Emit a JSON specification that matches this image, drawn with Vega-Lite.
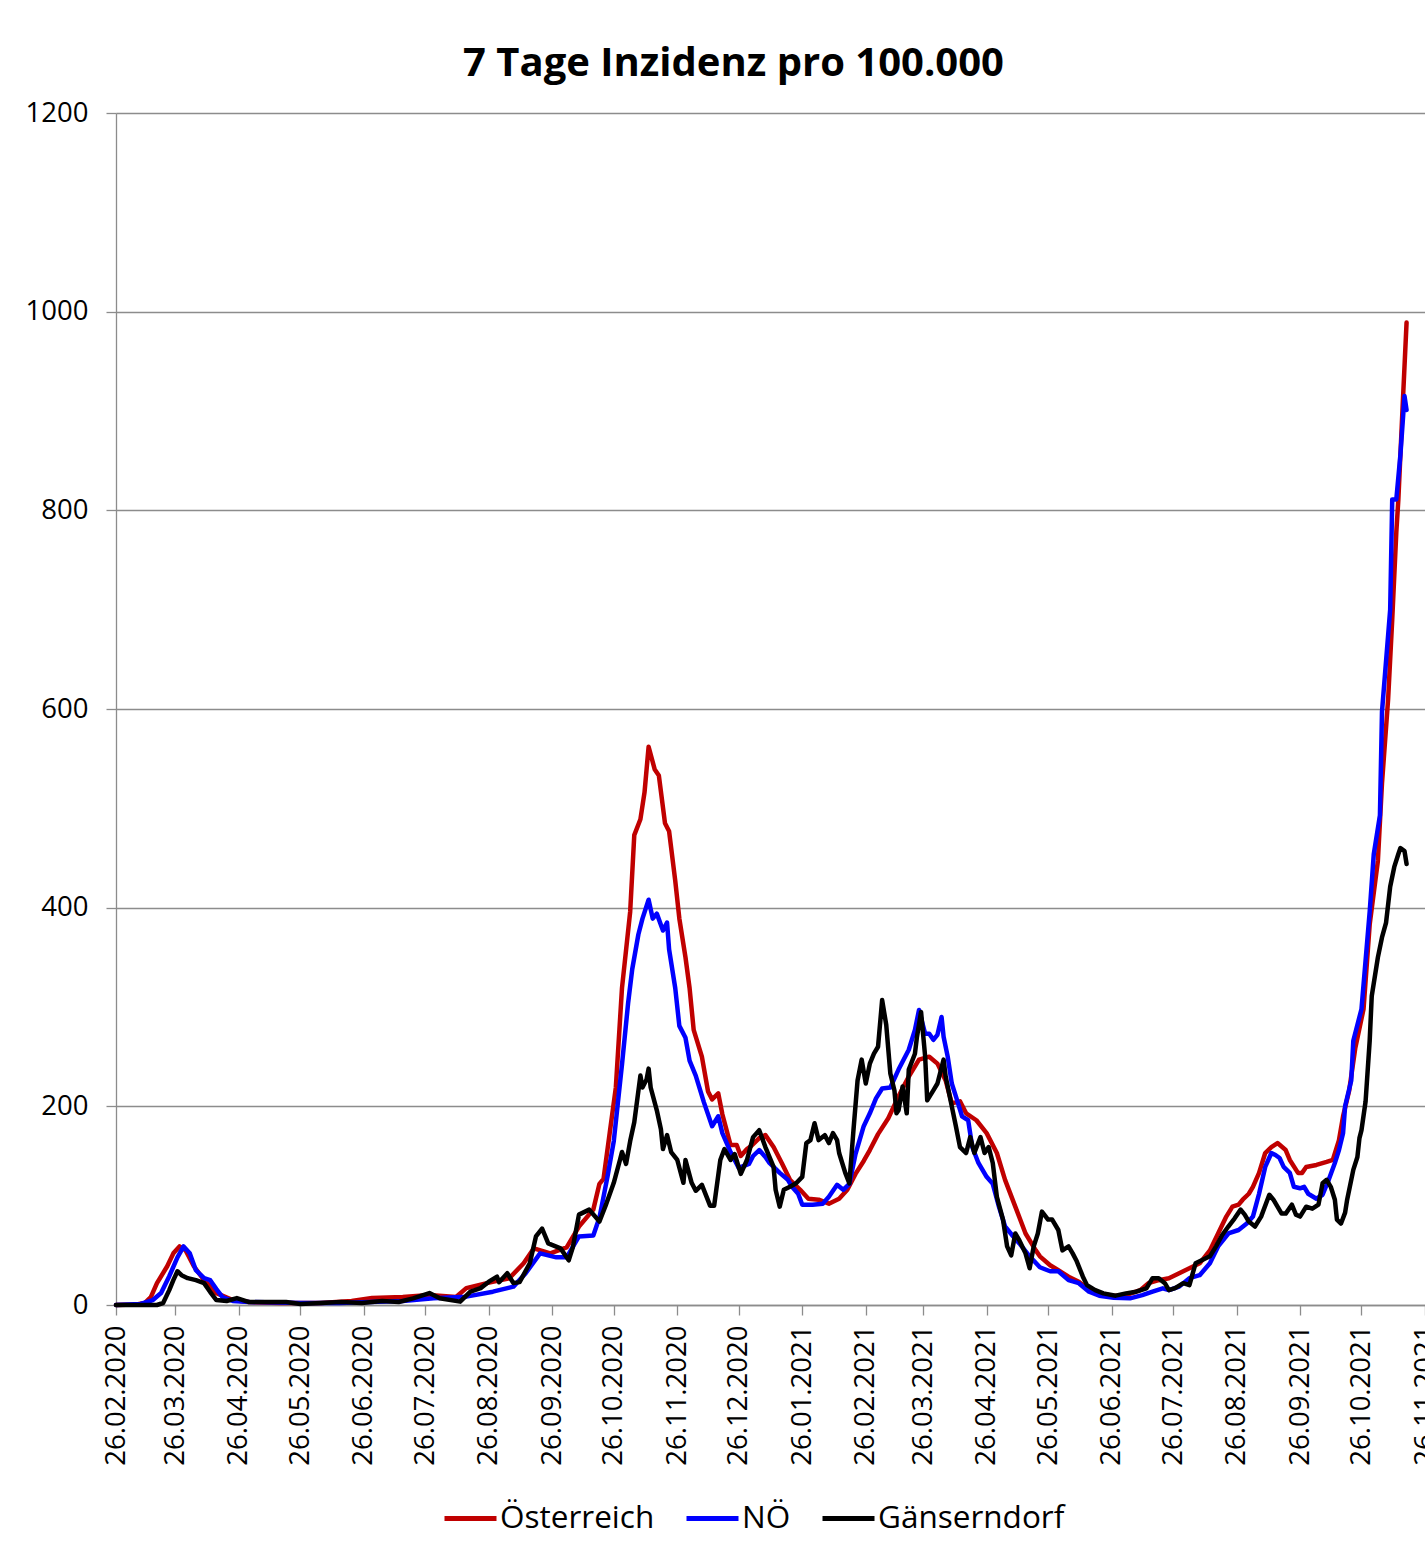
{
  "$schema": "https://vega.github.io/schema/vega-lite/v6.json",
  "autosize": "none",
  "width": 1309,
  "height": 1192,
  "padding": {"left": 116, "top": 113, "right": 0, "bottom": 241},
  "background": "white",
  "config": {"font": "Open Sans", "view": {"stroke": null}},
  "title": {"text": "7 Tage Inzidenz pro 100.000", "fontSize": 40, "fontWeight": "bold", "font": "Open Sans", "color": "#000000", "anchor": "middle", "dx": -37, "dy": 39, "offset": 22, "baseline": "alphabetic"},
  "datasets": {
    "at": [
      {"date":"2020-02-26","v":0},{"date":"2020-03-07","v":0.5},{"date":"2020-03-11","v":2},{"date":"2020-03-14","v":8},{"date":"2020-03-17","v":22},{"date":"2020-03-22","v":39},{"date":"2020-03-25","v":52},{"date":"2020-03-28","v":59},{"date":"2020-03-31","v":55},{"date":"2020-04-04","v":39},{"date":"2020-04-09","v":25},{"date":"2020-04-15","v":12},{"date":"2020-04-23","v":5},{"date":"2020-05-01","v":3},{"date":"2020-05-16","v":2},{"date":"2020-06-05","v":2},{"date":"2020-06-20","v":4},{"date":"2020-06-30","v":7},{"date":"2020-07-15","v":8},{"date":"2020-07-28","v":10},{"date":"2020-08-10","v":8},{"date":"2020-08-15","v":17},{"date":"2020-08-25","v":22},{"date":"2020-09-05","v":27},{"date":"2020-09-12","v":42},{"date":"2020-09-17","v":57},{"date":"2020-09-25","v":52},{"date":"2020-10-03","v":58},{"date":"2020-10-09","v":79},{"date":"2020-10-16","v":96},{"date":"2020-10-19","v":122},{"date":"2020-10-21","v":127},{"date":"2020-10-24","v":173},{"date":"2020-10-27","v":219},{"date":"2020-10-30","v":319},{"date":"2020-11-03","v":396},{"date":"2020-11-05","v":473},{"date":"2020-11-08","v":489},{"date":"2020-11-10","v":516},{"date":"2020-11-12","v":562},{"date":"2020-11-15","v":539},{"date":"2020-11-17","v":533},{"date":"2020-11-20","v":485},{"date":"2020-11-22","v":477},{"date":"2020-11-25","v":427},{"date":"2020-11-27","v":389},{"date":"2020-11-30","v":350},{"date":"2020-12-02","v":319},{"date":"2020-12-04","v":277},{"date":"2020-12-08","v":250},{"date":"2020-12-11","v":215},{"date":"2020-12-13","v":207},{"date":"2020-12-16","v":213},{"date":"2020-12-18","v":192},{"date":"2020-12-22","v":161},{"date":"2020-12-25","v":161},{"date":"2020-12-27","v":150},{"date":"2020-12-30","v":157},{"date":"2021-01-01","v":160},{"date":"2021-01-05","v":168},{"date":"2021-01-08","v":171},{"date":"2021-01-12","v":159},{"date":"2021-01-16","v":143},{"date":"2021-01-20","v":126},{"date":"2021-01-25","v":116},{"date":"2021-01-29","v":107},{"date":"2021-02-03","v":106},{"date":"2021-02-08","v":102},{"date":"2021-02-13","v":107},{"date":"2021-02-17","v":116},{"date":"2021-02-21","v":132},{"date":"2021-02-25","v":145},{"date":"2021-02-28","v":156},{"date":"2021-03-04","v":172},{"date":"2021-03-09","v":188},{"date":"2021-03-14","v":210},{"date":"2021-03-19","v":230},{"date":"2021-03-24","v":247},{"date":"2021-03-29","v":250},{"date":"2021-04-02","v":243},{"date":"2021-04-06","v":226},{"date":"2021-04-09","v":203},{"date":"2021-04-13","v":205},{"date":"2021-04-16","v":193},{"date":"2021-04-21","v":186},{"date":"2021-04-26","v":173},{"date":"2021-05-01","v":153},{"date":"2021-05-05","v":126},{"date":"2021-05-10","v":99},{"date":"2021-05-15","v":72},{"date":"2021-05-20","v":55},{"date":"2021-05-22","v":49},{"date":"2021-05-27","v":40},{"date":"2021-05-31","v":35},{"date":"2021-06-05","v":28.5},{"date":"2021-06-10","v":23.5},{"date":"2021-06-15","v":15},{"date":"2021-06-20","v":11.7},{"date":"2021-06-27","v":9},{"date":"2021-07-03","v":10},{"date":"2021-07-10","v":15},{"date":"2021-07-14","v":22},{"date":"2021-07-19","v":25},{"date":"2021-07-24","v":27},{"date":"2021-07-29","v":32},{"date":"2021-08-03","v":37},{"date":"2021-08-08","v":42},{"date":"2021-08-13","v":55},{"date":"2021-08-17","v":72},{"date":"2021-08-21","v":89},{"date":"2021-08-24","v":99},{"date":"2021-08-27","v":101},{"date":"2021-08-29","v":106},{"date":"2021-09-01","v":112},{"date":"2021-09-03","v":119},{"date":"2021-09-06","v":133},{"date":"2021-09-09","v":153},{"date":"2021-09-12","v":159},{"date":"2021-09-15","v":163},{"date":"2021-09-19","v":156},{"date":"2021-09-21","v":146},{"date":"2021-09-25","v":133},{"date":"2021-09-27","v":133},{"date":"2021-09-29","v":139},{"date":"2021-10-04","v":141},{"date":"2021-10-09","v":144},{"date":"2021-10-12","v":146},{"date":"2021-10-15","v":166},{"date":"2021-10-17","v":190},{"date":"2021-10-20","v":216},{"date":"2021-10-23","v":259},{"date":"2021-10-27","v":298},{"date":"2021-10-30","v":383},{"date":"2021-11-03","v":447},{"date":"2021-11-05","v":525},{"date":"2021-11-08","v":610},{"date":"2021-11-10","v":690},{"date":"2021-11-12","v":778},{"date":"2021-11-13","v":811},{"date":"2021-11-15","v":901},{"date":"2021-11-17","v":989}
    ],
    "noe": [
      {"date":"2020-02-26","v":0},{"date":"2020-03-09","v":1},{"date":"2020-03-15","v":5},{"date":"2020-03-19","v":12},{"date":"2020-03-23","v":29},{"date":"2020-03-27","v":48},{"date":"2020-03-30","v":59},{"date":"2020-04-02","v":52},{"date":"2020-04-05","v":35},{"date":"2020-04-09","v":27},{"date":"2020-04-12","v":25},{"date":"2020-04-15","v":16},{"date":"2020-04-18","v":8},{"date":"2020-04-23","v":4},{"date":"2020-05-01","v":3},{"date":"2020-05-26","v":2},{"date":"2020-06-14","v":2},{"date":"2020-06-29","v":3},{"date":"2020-07-15","v":4},{"date":"2020-07-30","v":6.7},{"date":"2020-08-15","v":8.4},{"date":"2020-08-28","v":13.4},{"date":"2020-09-07","v":18.5},{"date":"2020-09-13","v":32},{"date":"2020-09-20","v":52},{"date":"2020-09-28","v":48},{"date":"2020-10-03","v":48},{"date":"2020-10-09","v":69},{"date":"2020-10-16","v":70},{"date":"2020-10-19","v":88},{"date":"2020-10-23","v":130},{"date":"2020-10-26","v":165},{"date":"2020-10-30","v":242},{"date":"2020-11-02","v":304},{"date":"2020-11-04","v":338},{"date":"2020-11-07","v":373},{"date":"2020-11-09","v":389},{"date":"2020-11-12","v":408},{"date":"2020-11-14","v":389},{"date":"2020-11-16","v":394},{"date":"2020-11-19","v":377},{"date":"2020-11-21","v":385},{"date":"2020-11-22","v":358},{"date":"2020-11-25","v":319},{"date":"2020-11-27","v":281},{"date":"2020-11-30","v":269},{"date":"2020-12-02","v":246},{"date":"2020-12-05","v":231},{"date":"2020-12-09","v":204},{"date":"2020-12-13","v":180},{"date":"2020-12-16","v":190},{"date":"2020-12-18","v":173},{"date":"2020-12-22","v":154},{"date":"2020-12-26","v":138},{"date":"2020-12-31","v":142},{"date":"2021-01-02","v":150},{"date":"2021-01-05","v":156},{"date":"2021-01-08","v":149},{"date":"2021-01-10","v":143},{"date":"2021-01-15","v":133},{"date":"2021-01-19","v":126},{"date":"2021-01-21","v":119},{"date":"2021-01-24","v":112},{"date":"2021-01-26","v":101},{"date":"2021-01-31","v":101},{"date":"2021-02-05","v":102},{"date":"2021-02-08","v":109},{"date":"2021-02-12","v":121},{"date":"2021-02-15","v":116},{"date":"2021-02-18","v":122},{"date":"2021-02-21","v":152},{"date":"2021-02-25","v":180},{"date":"2021-02-28","v":193},{"date":"2021-03-03","v":208},{"date":"2021-03-06","v":218},{"date":"2021-03-10","v":219},{"date":"2021-03-14","v":237},{"date":"2021-03-19","v":257},{"date":"2021-03-22","v":277},{"date":"2021-03-24","v":297},{"date":"2021-03-27","v":273},{"date":"2021-03-29","v":273},{"date":"2021-03-31","v":267},{"date":"2021-04-02","v":272},{"date":"2021-04-04","v":290},{"date":"2021-04-05","v":270},{"date":"2021-04-07","v":250},{"date":"2021-04-09","v":223},{"date":"2021-04-11","v":210},{"date":"2021-04-14","v":190},{"date":"2021-04-17","v":186},{"date":"2021-04-19","v":159},{"date":"2021-04-22","v":143},{"date":"2021-04-26","v":129},{"date":"2021-04-29","v":122},{"date":"2021-05-02","v":99},{"date":"2021-05-05","v":79},{"date":"2021-05-09","v":69},{"date":"2021-05-12","v":62},{"date":"2021-05-17","v":49},{"date":"2021-05-22","v":38},{"date":"2021-05-27","v":34},{"date":"2021-05-31","v":34},{"date":"2021-06-05","v":25},{"date":"2021-06-10","v":22},{"date":"2021-06-15","v":13.4},{"date":"2021-06-20","v":9.4},{"date":"2021-06-27","v":7.4},{"date":"2021-07-05","v":6.7},{"date":"2021-07-11","v":10},{"date":"2021-07-16","v":13.4},{"date":"2021-07-21","v":16.8},{"date":"2021-07-24","v":15},{"date":"2021-07-29","v":18.5},{"date":"2021-08-03","v":27},{"date":"2021-08-08","v":30},{"date":"2021-08-13","v":42},{"date":"2021-08-17","v":59},{"date":"2021-08-22","v":72},{"date":"2021-08-27","v":75.5},{"date":"2021-08-31","v":82},{"date":"2021-09-03","v":89},{"date":"2021-09-06","v":112},{"date":"2021-09-09","v":139},{"date":"2021-09-12","v":153},{"date":"2021-09-14","v":151},{"date":"2021-09-16","v":148},{"date":"2021-09-18","v":139},{"date":"2021-09-21","v":133},{"date":"2021-09-23","v":119},{"date":"2021-09-26","v":117.5},{"date":"2021-09-28","v":119},{"date":"2021-09-30","v":112},{"date":"2021-10-04","v":107},{"date":"2021-10-07","v":111},{"date":"2021-10-10","v":126},{"date":"2021-10-13","v":143},{"date":"2021-10-15","v":156},{"date":"2021-10-17","v":173},{"date":"2021-10-18","v":200},{"date":"2021-10-21","v":226},{"date":"2021-10-22","v":266},{"date":"2021-10-26","v":298},{"date":"2021-10-30","v":396},{"date":"2021-11-01","v":454},{"date":"2021-11-04","v":493},{"date":"2021-11-05","v":597},{"date":"2021-11-09","v":700},{"date":"2021-11-10","v":811},{"date":"2021-11-12","v":811},{"date":"2021-11-14","v":856},{"date":"2021-11-16","v":915},{"date":"2021-11-17","v":901}
    ],
    "gd": [
      {"date":"2020-02-26","v":0},{"date":"2020-03-17","v":0},{"date":"2020-03-20","v":2},{"date":"2020-03-23","v":15},{"date":"2020-03-25","v":25},{"date":"2020-03-27","v":34},{"date":"2020-03-29","v":30},{"date":"2020-04-01","v":27},{"date":"2020-04-05","v":25},{"date":"2020-04-09","v":22},{"date":"2020-04-12","v":13},{"date":"2020-04-15","v":5},{"date":"2020-04-20","v":4},{"date":"2020-04-25","v":7},{"date":"2020-05-01","v":3},{"date":"2020-05-19","v":3},{"date":"2020-05-26","v":1},{"date":"2020-06-05","v":2},{"date":"2020-06-15","v":3},{"date":"2020-06-25","v":2},{"date":"2020-07-05","v":4},{"date":"2020-07-13","v":3},{"date":"2020-07-20","v":6.7},{"date":"2020-07-28","v":12},{"date":"2020-08-02","v":6.7},{"date":"2020-08-12","v":3.4},{"date":"2020-08-17","v":13.4},{"date":"2020-08-22","v":17},{"date":"2020-08-26","v":23.5},{"date":"2020-08-30","v":28.5},{"date":"2020-08-31","v":23},{"date":"2020-09-04","v":32},{"date":"2020-09-07","v":22},{"date":"2020-09-10","v":23},{"date":"2020-09-15","v":42},{"date":"2020-09-18","v":69},{"date":"2020-09-21","v":77},{"date":"2020-09-24","v":62},{"date":"2020-09-30","v":57},{"date":"2020-10-04","v":45},{"date":"2020-10-06","v":58},{"date":"2020-10-09","v":91},{"date":"2020-10-14","v":96},{"date":"2020-10-19","v":84},{"date":"2020-10-22","v":100},{"date":"2020-10-26","v":123},{"date":"2020-10-29","v":146},{"date":"2020-10-30","v":154},{"date":"2020-11-01","v":142},{"date":"2020-11-03","v":165},{"date":"2020-11-05","v":184},{"date":"2020-11-08","v":231},{"date":"2020-11-09","v":219},{"date":"2020-11-11","v":227},{"date":"2020-11-12","v":238},{"date":"2020-11-13","v":219},{"date":"2020-11-16","v":196},{"date":"2020-11-18","v":177},{"date":"2020-11-19","v":157},{"date":"2020-11-21","v":171},{"date":"2020-11-23","v":154},{"date":"2020-11-26","v":146},{"date":"2020-11-29","v":123},{"date":"2020-11-30","v":146},{"date":"2020-12-03","v":123},{"date":"2020-12-05","v":115},{"date":"2020-12-08","v":121},{"date":"2020-12-12","v":100},{"date":"2020-12-14","v":100},{"date":"2020-12-17","v":146},{"date":"2020-12-19","v":157},{"date":"2020-12-22","v":146},{"date":"2020-12-24","v":152},{"date":"2020-12-27","v":132},{"date":"2020-12-30","v":146},{"date":"2021-01-02","v":169},{"date":"2021-01-05","v":176},{"date":"2021-01-08","v":159},{"date":"2021-01-12","v":139},{"date":"2021-01-13","v":116},{"date":"2021-01-15","v":99},{"date":"2021-01-17","v":116},{"date":"2021-01-20","v":119},{"date":"2021-01-23","v":122.5},{"date":"2021-01-26","v":129},{"date":"2021-01-28","v":163},{"date":"2021-01-30","v":166},{"date":"2021-02-01","v":183},{"date":"2021-02-03","v":166},{"date":"2021-02-06","v":171},{"date":"2021-02-08","v":163},{"date":"2021-02-10","v":173},{"date":"2021-02-12","v":166},{"date":"2021-02-13","v":153},{"date":"2021-02-16","v":133},{"date":"2021-02-18","v":122.5},{"date":"2021-02-20","v":176},{"date":"2021-02-22","v":226},{"date":"2021-02-24","v":247},{"date":"2021-02-26","v":223},{"date":"2021-02-28","v":243},{"date":"2021-03-02","v":253},{"date":"2021-03-04","v":260},{"date":"2021-03-06","v":307},{"date":"2021-03-08","v":282},{"date":"2021-03-10","v":233},{"date":"2021-03-12","v":216},{"date":"2021-03-13","v":193},{"date":"2021-03-14","v":196},{"date":"2021-03-16","v":220},{"date":"2021-03-18","v":193},{"date":"2021-03-19","v":237},{"date":"2021-03-22","v":253},{"date":"2021-03-23","v":270},{"date":"2021-03-25","v":295},{"date":"2021-03-27","v":250},{"date":"2021-03-28","v":206},{"date":"2021-03-31","v":216},{"date":"2021-04-02","v":223},{"date":"2021-04-05","v":247},{"date":"2021-04-06","v":230},{"date":"2021-04-09","v":200},{"date":"2021-04-11","v":180},{"date":"2021-04-13","v":159},{"date":"2021-04-16","v":153},{"date":"2021-04-18","v":169},{"date":"2021-04-20","v":153},{"date":"2021-04-23","v":169},{"date":"2021-04-25","v":153},{"date":"2021-04-27","v":159},{"date":"2021-04-29","v":143},{"date":"2021-05-01","v":109},{"date":"2021-05-04","v":86},{"date":"2021-05-06","v":59},{"date":"2021-05-08","v":50},{"date":"2021-05-10","v":72},{"date":"2021-05-12","v":65},{"date":"2021-05-15","v":52},{"date":"2021-05-17","v":37},{"date":"2021-05-19","v":59},{"date":"2021-05-21","v":72},{"date":"2021-05-23","v":94},{"date":"2021-05-26","v":86},{"date":"2021-05-28","v":86},{"date":"2021-05-31","v":75.5},{"date":"2021-06-02","v":55},{"date":"2021-06-05","v":59},{"date":"2021-06-07","v":52},{"date":"2021-06-09","v":44},{"date":"2021-06-12","v":28.5},{"date":"2021-06-14","v":20},{"date":"2021-06-18","v":15},{"date":"2021-06-22","v":11.7},{"date":"2021-06-28","v":9.4},{"date":"2021-07-03","v":11.7},{"date":"2021-07-08","v":13.4},{"date":"2021-07-13","v":16.8},{"date":"2021-07-16","v":27},{"date":"2021-07-19","v":27},{"date":"2021-07-22","v":22},{"date":"2021-07-24","v":15},{"date":"2021-07-27","v":17},{"date":"2021-07-31","v":22},{"date":"2021-08-03","v":20},{"date":"2021-08-06","v":42},{"date":"2021-08-09","v":45},{"date":"2021-08-13","v":49},{"date":"2021-08-16","v":59},{"date":"2021-08-19","v":70.5},{"date":"2021-08-22","v":79},{"date":"2021-08-25","v":87},{"date":"2021-08-28","v":96},{"date":"2021-08-30","v":91},{"date":"2021-09-01","v":84},{"date":"2021-09-04","v":79},{"date":"2021-09-07","v":89},{"date":"2021-09-11","v":111},{"date":"2021-09-13","v":106},{"date":"2021-09-17","v":92},{"date":"2021-09-19","v":92},{"date":"2021-09-22","v":101},{"date":"2021-09-24","v":91},{"date":"2021-09-26","v":89},{"date":"2021-09-29","v":99},{"date":"2021-10-02","v":97},{"date":"2021-10-05","v":101},{"date":"2021-10-07","v":122.5},{"date":"2021-10-09","v":126},{"date":"2021-10-11","v":119},{"date":"2021-10-13","v":106},{"date":"2021-10-14","v":86},{"date":"2021-10-16","v":82},{"date":"2021-10-18","v":93},{"date":"2021-10-19","v":106},{"date":"2021-10-22","v":136},{"date":"2021-10-24","v":149},{"date":"2021-10-25","v":168},{"date":"2021-10-26","v":176},{"date":"2021-10-28","v":205},{"date":"2021-10-30","v":266},{"date":"2021-10-31","v":311},{"date":"2021-11-03","v":350},{"date":"2021-11-05","v":370},{"date":"2021-11-07","v":385},{"date":"2021-11-09","v":421},{"date":"2021-11-11","v":441},{"date":"2021-11-13","v":454},{"date":"2021-11-14","v":460},{"date":"2021-11-16","v":457},{"date":"2021-11-17","v":444}
    ]
  },
  "encoding": {
    "x": {
      "field": "date", "type": "temporal",
      "scale": {"type": "utc", "nice": false, "domain": [{"year":2020,"month":2,"date":26,"utc":true},{"year":2021,"month":11,"date":26,"utc":true}]},
      "axis": {
        "title": null, "grid": false,
        "values": [
          {"year":2020,"month":2,"date":26,"utc":true},{"year":2020,"month":3,"date":26,"utc":true},{"year":2020,"month":4,"date":26,"utc":true},{"year":2020,"month":5,"date":26,"utc":true},{"year":2020,"month":6,"date":26,"utc":true},{"year":2020,"month":7,"date":26,"utc":true},{"year":2020,"month":8,"date":26,"utc":true},{"year":2020,"month":9,"date":26,"utc":true},{"year":2020,"month":10,"date":26,"utc":true},{"year":2020,"month":11,"date":26,"utc":true},{"year":2020,"month":12,"date":26,"utc":true},
          {"year":2021,"month":1,"date":26,"utc":true},{"year":2021,"month":2,"date":26,"utc":true},{"year":2021,"month":3,"date":26,"utc":true},{"year":2021,"month":4,"date":26,"utc":true},{"year":2021,"month":5,"date":26,"utc":true},{"year":2021,"month":6,"date":26,"utc":true},{"year":2021,"month":7,"date":26,"utc":true},{"year":2021,"month":8,"date":26,"utc":true},{"year":2021,"month":9,"date":26,"utc":true},{"year":2021,"month":10,"date":26,"utc":true},{"year":2021,"month":11,"date":26,"utc":true}
        ],
        "labelExpr": "utcFormat(datum.value, '%d.%m.%Y')",
        "labelAngle": 270, "labelAlign": "right", "labelBaseline": "middle",
        "labelPadding": 10, "tickSize": 10, "labelFontSize": 27.5, "labelFont": "Open Sans", "labelColor": "#000000",
        "labelFlush": false, "labelOverlap": false, "labelBound": false,
        "domainColor": "#8c8c8c", "tickColor": "#8c8c8c", "domainWidth": 1.3, "tickWidth": 1.3
      }
    },
    "y": {
      "field": "v", "type": "quantitative",
      "scale": {"domain": [0, 1200], "nice": false},
      "axis": {
        "title": null, "values": [0, 200, 400, 600, 800, 1000, 1200], "format": "d",
        "grid": true, "gridColor": "#8c8c8c", "gridWidth": 1.3,
        "tickSize": 10, "labelPadding": 18, "labelFontSize": 27.5, "labelFont": "Open Sans", "labelColor": "#000000",
        "labelFlush": false, "labelOverlap": false,
        "domainColor": "#8c8c8c", "tickColor": "#8c8c8c", "domainWidth": 1.3, "tickWidth": 1.3
      }
    }
  },
  "layer": [
    {
      "data": {"name": "at"},
      "mark": {"type": "line", "strokeWidth": 4.5, "strokeJoin": "round", "strokeCap": "round"},
      "encoding": {
        "color": {
          "datum": "Österreich",
          "scale": {"domain": ["Österreich", "NÖ", "Gänserndorf"], "range": ["#C00000", "#0000FF", "#000000"]},
          "legend": {
            "title": null, "orient": "none", "legendX": 326, "legendY": 1377, "direction": "horizontal",
            "symbolType": "stroke", "symbolSize": 2704, "symbolStrokeWidth": 5,
            "labelFontSize": 31.5, "labelFont": "Open Sans", "labelColor": "#000000", "labelOffset": 1, "labelLimit": 400,
            "columnPadding": 21, "padding": 0
          }
        }
      }
    },
    {
      "data": {"name": "noe"},
      "mark": {"type": "line", "strokeWidth": 4.5, "strokeJoin": "round", "strokeCap": "round"},
      "encoding": {"color": {"datum": "NÖ"}}
    },
    {
      "data": {"name": "gd"},
      "mark": {"type": "line", "strokeWidth": 4.5, "strokeJoin": "round", "strokeCap": "round"},
      "encoding": {"color": {"datum": "Gänserndorf"}}
    }
  ]
}
